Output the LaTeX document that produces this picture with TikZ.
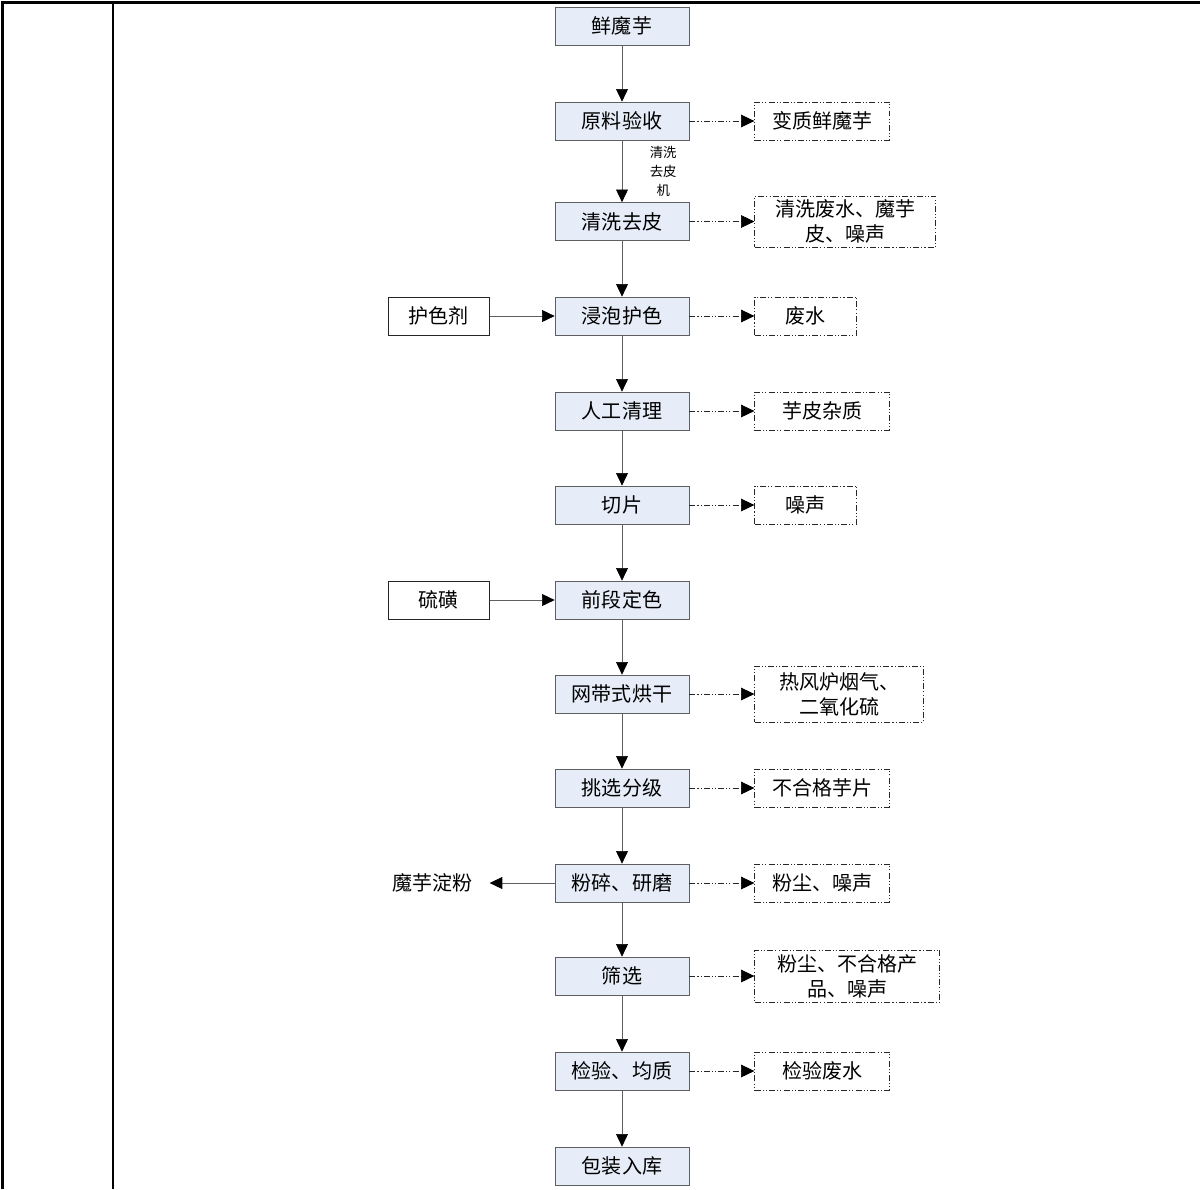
\documentclass[tikz,border=0pt]{standalone}
\usepackage{fontspec}
\setmainfont{Noto Sans CJK SC}
\usetikzlibrary{arrows.meta, positioning}

\definecolor{boxfill}{RGB}{230,237,248}
\definecolor{linegray}{RGB}{95,95,95}

\tikzset{
  process/.style={draw=linegray, fill=boxfill, minimum width=2.68cm,
    minimum height=0.76cm, inner sep=0pt, font=\fontsize{11.4}{14}\selectfont},
  input/.style={draw=black!85, minimum width=2.02cm, minimum height=0.76cm,
    inner sep=0pt, font=\fontsize{11.4}{14}\selectfont},
  dashdot/.style={dash pattern=on 3.4pt off 1.2pt on 0.6pt off 1.2pt on 0.6pt off 1.2pt},
  waste/.style={draw=black!85, dashdot, minimum height=0.76cm, inner sep=1pt,
    align=center, font=\fontsize{11.4}{14.2}\selectfont},
  flow/.style={draw=linegray, -{Triangle[length=7.2pt, width=6.8pt, black]}},
  emit/.style={draw=black!85, dashdot, -{Triangle[length=7.6pt, width=7.2pt, black]}},
}

\begin{document}
\begin{tikzpicture}
\useasboundingbox (0,0) rectangle (24,-23.78);

% table frame
\draw[line width=0.06cm] (0.06,-23.78) -- (0.06,-0.04) -- (24,-0.04);
\draw[line width=0.04cm] (2.26,-0.04) -- (2.26,-23.78);

% main column
\node[process] (fresh)   at (12.44,-0.52)  {鲜魔芋};
\node[process] (accept)  at (12.44,-2.42)  {原料验收};
\node[process] (wash)    at (12.44,-4.43)  {清洗去皮};
\node[process] (soak)    at (12.44,-6.32)  {浸泡护色};
\node[process] (clean)   at (12.44,-8.22)  {人工清理};
\node[process] (slice)   at (12.44,-10.10) {切片};
\node[process] (fix)     at (12.44,-12.00) {前段定色};
\node[process] (dry)     at (12.44,-13.88) {网带式烘干};
\node[process] (grade)   at (12.44,-15.76) {挑选分级};
\node[process] (mill)    at (12.44,-17.66) {粉碎、研磨};
\node[process] (sieve)   at (12.44,-19.52) {筛选};
\node[process] (check)   at (12.44,-21.42) {检验、均质};
\node[process] (pack)    at (12.44,-23.32) {包装入库};

% side nodes
\node[waste, minimum width=2.70cm, right=1.3cm of accept] (spoilt) {变质鲜魔芋};
\node[waste, minimum width=3.62cm, minimum height=1.02cm, right=1.3cm of wash] (washout) {清洗废水、魔芋\\皮、噪声};
\node[waste, minimum width=2.04cm, right=1.3cm of soak] (soakout) {废水};
\node[waste, minimum width=2.70cm, right=1.3cm of clean] (peel) {芋皮杂质};
\node[waste, minimum width=2.04cm, right=1.3cm of slice] (noise) {噪声};
\node[waste, minimum width=3.38cm, minimum height=1.12cm, right=1.3cm of dry] (flue) {热风炉烟气、\\二氧化硫};
\node[waste, minimum width=2.70cm, right=1.3cm of grade] (reject) {不合格芋片};
\node[waste, minimum width=2.70cm, right=1.3cm of mill] (dust) {粉尘、噪声};
\node[waste, minimum width=3.70cm, minimum height=1.04cm, right=1.3cm of sieve] (sieveout) {粉尘、不合格产\\品、噪声};
\node[waste, minimum width=2.70cm, right=1.3cm of check] (checkout) {检验废水};

\node[input, left=1.3cm of soak] (colour) {护色剂};
\node[input, left=1.3cm of fix] (sulphur) {硫磺};
\node[inner sep=0pt, font=\fontsize{11.4}{14}\selectfont, left=1.64cm of mill] (starch) {魔芋淀粉};

% main flow
\draw[flow] (fresh) -- (accept);
\draw[flow] (accept) -- node[midway, right=0.55cm, align=center, inner sep=0pt,
  font=\fontsize{7.6}{11}\selectfont] {清洗\\去皮\\机} (wash);
\draw[flow] (wash) -- (soak);
\draw[flow] (soak) -- (clean);
\draw[flow] (clean) -- (slice);
\draw[flow] (slice) -- (fix);
\draw[flow] (fix) -- (dry);
\draw[flow] (dry) -- (grade);
\draw[flow] (grade) -- (mill);
\draw[flow] (mill) -- (sieve);
\draw[flow] (sieve) -- (check);
\draw[flow] (check) -- (pack);

% inputs and products
\draw[flow] (colour) -- (soak);
\draw[flow] (sulphur) -- (fix);
\draw[flow, shorten >=0.34cm] (mill) -- (starch);

% wastes
\draw[emit] (accept) -- (spoilt);
\draw[emit] (wash) -- (washout);
\draw[emit] (soak) -- (soakout);
\draw[emit] (clean) -- (peel);
\draw[emit] (slice) -- (noise);
\draw[emit] (dry) -- (flue);
\draw[emit] (grade) -- (reject);
\draw[emit] (mill) -- (dust);
\draw[emit] (sieve) -- (sieveout);
\draw[emit] (check) -- (checkout);

\end{tikzpicture}
\end{document}
